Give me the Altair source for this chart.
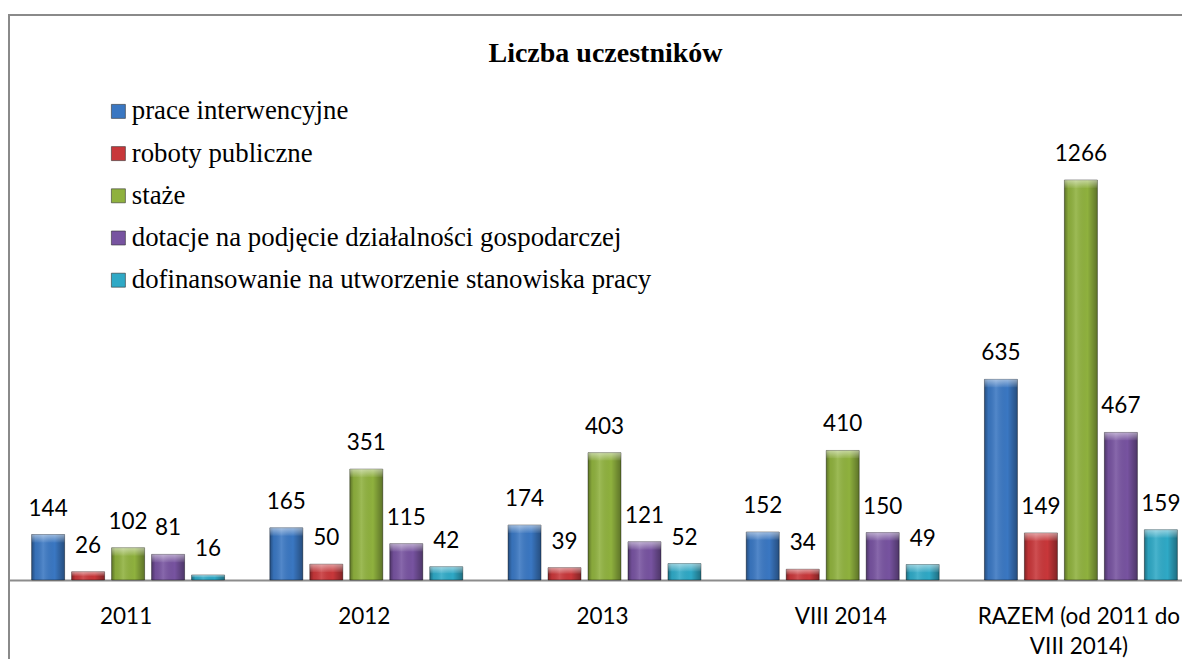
import altair as alt
import pandas as pd

categories = ["2011", "2012", "2013", "VIII 2014", "RAZEM (od 2011 do VIII 2014)"]
series = [
    "prace interwencyjne",
    "roboty publiczne",
    "staże",
    "dotacje na podjęcie działalności gospodarczej",
    "dofinansowanie na utworzenie stanowiska pracy",
]
prace_interwencyjne = [144, 165, 174, 152, 635]
roboty_publiczne = [26, 50, 39, 34, 149]
staze = [102, 351, 403, 410, 1266]
dotacje = [81, 115, 121, 150, 467]
dofinansowanie = [16, 42, 52, 49, 159]
colors = ["#3a77c2", "#c8373a", "#8fb13e", "#7753a0", "#2fa9c6"]

rows = []
for s, vals in zip(series, [prace_interwencyjne, roboty_publiczne, staze, dotacje, dofinansowanie]):
    for c, v in zip(categories, vals):
        rows.append({"kategoria": c, "seria": s, "wartosc": v})
df = pd.DataFrame(rows)

x = alt.X(
    "kategoria:N",
    sort=categories,
    scale=alt.Scale(paddingInner=0, paddingOuter=0),
    axis=alt.Axis(
        title=None, orient="bottom", offset=-100, domainColor="#8c8c8c", domainWidth=2,
        ticks=False, grid=False, labelFont="Lato", labelFontSize=22.5, labelColor="black",
        labelPadding=25, labelAngle=0, labelLineHeight=30, labelLimit=500, labelOffset=-2,
        labelExpr="datum.value == 'RAZEM (od 2011 do VIII 2014)' ? ['RAZEM (od 2011 do', 'VIII 2014)'] : datum.label",
    ),
)
xo = alt.XOffset("seria:N", sort=series, scale=alt.Scale(paddingInner=0.175, paddingOuter=0.566))
y = alt.Y("wartosc:Q", scale=alt.Scale(domain=[-316.5, 1788.2], nice=False, zero=False), axis=None)

base = alt.Chart(df).mark_bar(strokeWidth=0).encode(
    x=x, xOffset=xo, y=y,
    color=alt.Color(
        "seria:N", sort=series,
        scale=alt.Scale(domain=series, range=colors),
        legend=alt.Legend(
            title=None, orient="none", legendX=96, legendY=83, direction="vertical",
            symbolType="square", symbolSize=196, symbolStrokeWidth=0.6, symbolStrokeColor="#333",
            labelFont="Liberation Serif", labelFontSize=26.8, labelFontWeight="normal", labelColor="black",
            labelLimit=900, rowPadding=14.2, labelOffset=0, padding=0,
        ),
    ),
)

shade = alt.Chart(df).mark_bar(
    fill=alt.Gradient(
        gradient="linear", x1=0, y1=0, x2=1, y2=0,
        stops=[
            alt.GradientStop(offset=0, color="rgba(0,0,0,0.35)"),
            alt.GradientStop(offset=0.12, color="rgba(0,0,0,0.05)"),
            alt.GradientStop(offset=0.35, color="rgba(255,255,255,0.12)"),
            alt.GradientStop(offset=0.7, color="rgba(0,0,0,0)"),
            alt.GradientStop(offset=1, color="rgba(0,0,0,0.35)"),
        ],
    ),
    stroke="rgba(0,0,0,0.55)", strokeWidth=0.7,
).encode(x=x, xOffset=xo, y=y)

highlight = alt.Chart(df).transform_calculate(
    top2="datum.wartosc - min(25, datum.wartosc * 0.5)"
).mark_bar(
    fill=alt.Gradient(
        gradient="linear", x1=0, y1=0, x2=0, y2=1,
        stops=[
            alt.GradientStop(offset=0, color="rgba(255,255,255,0.5)"),
            alt.GradientStop(offset=1, color="rgba(255,255,255,0.05)"),
        ],
    ),
).encode(x=x, xOffset=xo, y=y, y2="top2:Q")

labels = alt.Chart(df).mark_text(
    font="Lato", fontSize=22.5, baseline="alphabetic", dy=-19, color="black"
).encode(x=x, xOffset=xo, y=y, text="wartosc:Q")

chart = alt.layer(base, shade, highlight, labels).properties(
    width=1191,
    height=665,
    padding={"left": 1, "top": 7, "right": -18, "bottom": 0},
    autosize=alt.AutoSizeParams(type="none"),
    title=alt.TitleParams(
        "Liczba uczestników", font="Liberation Serif", fontSize=28, fontWeight="bold",
        color="black", anchor="middle", frame="group", offset=0, dy=75, dx=1, baseline="alphabetic",
    ),
).configure(
    font="Liberation Serif",
).configure_view(
    stroke="#8a8a8a", strokeWidth=2
).configure_legend(labelFont="Liberation Serif", labelFontSize=26.8)

chart.save("out.html", embed_options={"renderer": "svg", "actions": False})
